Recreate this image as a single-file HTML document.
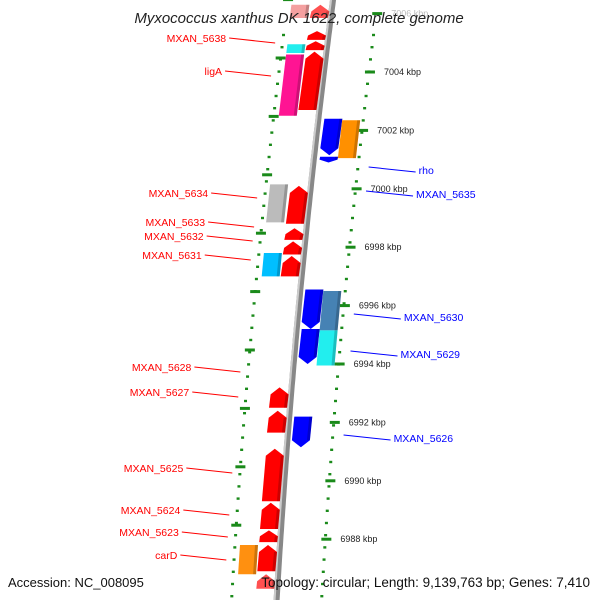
<!DOCTYPE html>
<html><head><meta charset="utf-8"><style>
body{margin:0;background:#fff;}
svg{display:block;font-family:"Liberation Sans","DejaVu Sans",sans-serif;}
</style></head><body>
<svg id="c" width="600" height="600">
<g id="rings"></g>
<g id="genes"></g>
<g id="labels"></g>
<text x="299" y="23" text-anchor="middle" font-size="15" font-style="italic" fill="#222">Myxococcus xanthus DK 1622, complete genome</text>
<text x="8" y="587" font-size="13" fill="#111">Accession: NC_008095</text>
<text x="590" y="587" text-anchor="end" font-size="13.5" fill="#111">Topology: circular; Length: 9,139,763 bp; Genes: 7,410</text>
</svg>
<script>
// tick labels (kbp)
const tickKbp=[7006,7004,7002,7000,6998,6996,6994,6992,6990,6988];
// genes: name, start kbp, end kbp, lane, color, strand
const geneNames=["top1","top2","MXAN_5638","MXAN_5638b","ligA","ligA-m","ligA-c","rho","rho-b","rho-o","MXAN_5634","MXAN_5634g","MXAN_5633","MXAN_5632","MXAN_5631","MXAN_5631c","MXAN_5630","MXAN_5630s","MXAN_5629","MXAN_5629c","MXAN_5628","MXAN_5627","MXAN_5626","MXAN_5625","MXAN_5624","MXAN_5623","carD-r","carD","bot1"];
const geneStart=[7006.3,7006.3,7005.4,7005.05,7004.7,7004.6,7004.95,7002.4,7001.1,7002.35,7000.1,7000.15,6998.65,6998.2,6997.7,6997.8,6996.55,6996.5,6995.2,6995.15,6993.2,6992.4,6992.2,6991.1,6989.25,6988.3,6987.8,6987.8,6986.8];
const geneEnd=[7005.85,7005.85,7005.1,7004.75,7002.7,7002.5,7004.65,7001.15,7000.9,7001.05,6998.8,6998.85,6998.25,6997.75,6997.0,6997.0,6995.2,6995.15,6994.0,6993.95,6992.5,6991.65,6991.15,6989.3,6988.35,6987.9,6986.9,6986.8,6986.3];
const geneLane=[-32,-12,-12,-12,-12,-31,-31,15,15,33,-12,-32,-12,-12,-12,-31,14,32,14,32,-12,-12,14,-12,-12,-12,-12,-31,-12];
const geneColor=["#f4a0a0","#ff5050","#ff0000","#ff0000","#ff0000","#ff1493","#22eeee","#0000ff","#0000ff","#ff9000","#ff0000","#bbbbbb","#ff0000","#ff0000","#ff0000","#00bfff","#0000ff","#4682b4","#0000ff","#22eeee","#ff0000","#ff0000","#0000ff","#ff0000","#ff0000","#ff0000","#ff0000","#ff9010","#ff5050"];
const geneStrand=[0,1,1,1,1,0,0,-1,-1,0,1,0,1,1,1,0,-1,0,-1,0,1,1,-1,1,1,1,1,0,1];
// labels: text, y, side
const labelText=["MXAN_5638","ligA","MXAN_5634","MXAN_5633","MXAN_5632","MXAN_5631","MXAN_5628","MXAN_5627","MXAN_5625","MXAN_5624","MXAN_5623","carD","rho","MXAN_5635","MXAN_5630","MXAN_5629","MXAN_5626"];
const labelY=[38,71,193,222,236,255,367,392,468,510,532,555,170,194,317,354,438];
const labelSide=[-1,-1,-1,-1,-1,-1,-1,-1,-1,-1,-1,-1,1,1,1,1,1];

const NS="http://www.w3.org/2000/svg";
const yOf=k=>72+(7004-k)*29.2;
const bx=y=>333-0.13*y+0.00006*y*y;
function mk(tag,attrs,parent){const e=document.createElementNS(NS,tag);for(const a in attrs)e.setAttribute(a,attrs[a]);parent.appendChild(e);return e;}
const rings=document.getElementById('rings'),genesG=document.getElementById('genes'),labelsG=document.getElementById('labels');
let d="";for(let y=-5;y<=605;y+=5)d+=(y<0?"M":"L")+bx(y).toFixed(1)+" "+y+" ";
const bb=mk('path',{d:d,stroke:"#888",'stroke-width':6,fill:"none"},rings);


mk('path',{d:d,stroke:"#ccc",'stroke-width':2,fill:"none",transform:"translate(-2,0)"},rings);
for(let y=35;y<600;y+=12.2){for(const s of [-1,1]){const x=bx(y)+s*45;
const dt=mk('rect',{x:x-1.5,y:y-1.2,width:3,height:2.4,fill:"#1a8a1a"},rings);

}}
tickKbp.forEach(k=>{const y=yOf(k);
const xr=bx(y)+46;
const t=mk('rect',{x:xr-5,y:y-1.5,width:10,height:3,fill:"#1a8a1a"},rings);


const yl=y-14;const xl=bx(yl)-45;
const t2=mk('rect',{x:xl-5,y:yl-1.5,width:10,height:3,fill:"#1a8a1a"},rings);


const tx=mk('text',{x:xr+14,y:y+3,'font-size':9,fill:k>7005?"#bbb":"#222"},rings);tx.textContent=k+" kbp";

});
geneNames.forEach((n,i)=>{const y1=yOf(geneStart[i]),y2=yOf(geneEnd[i]);const o=geneLane[i],w=18;
const x1=bx(y1)+o-w/2,x2=bx(y2)+o-w/2;const s=geneStrand[i];const ah=Math.min(7,(y2-y1)/2);let pts;
if(s===1)pts=[[x1,y1+ah],[x1+w/2,y1],[x1+w,y1+ah],[x2+w,y2],[x2,y2]];
else if(s===-1)pts=[[x1,y1],[x1+w,y1],[x2+w,y2-ah],[x2+w/2,y2],[x2,y2-ah]];
else pts=[[x1,y1],[x1+w,y1],[x2+w,y2],[x2,y2]];
const p=mk('polygon',{points:pts.map(q=>q[0].toFixed(1)+","+q[1].toFixed(1)).join(" "),fill:geneColor[i]},genesG);


mk('polygon',{points:[[x1+w-3,y1+(s===1?ah:0)],[x1+w,y1+(s===1?ah:0)],[x2+w,y2-(s===-1?ah:0)],[x2+w-3,y2-(s===-1?ah:0)]].map(q=>q[0].toFixed(1)+","+q[1].toFixed(1)).join(" "),fill:"#000",'fill-opacity':0.2},genesG);});
labelText.forEach((t,i)=>{const ly=labelY[i];const side=labelSide[i];
const col=side<0?"#f00":"#00f";const b=bx(ly);
let a,c,tx0;
if(side<0){a=[b-99,ly];c=[b-53,ly+5];tx0=b-102;}
else{a=[b+56,ly-3];c=[b+103,ly+2];tx0=b+106;}
const ln=mk('line',{x1:a[0],y1:a[1],x2:c[0],y2:c[1],stroke:col,'stroke-width':1},labelsG);


const tx=mk('text',{x:tx0,y:ly+4,'font-size':10.5,fill:col,'text-anchor':side<0?"end":"start"},labelsG);tx.textContent=t;

});
</script>
</body></html>
